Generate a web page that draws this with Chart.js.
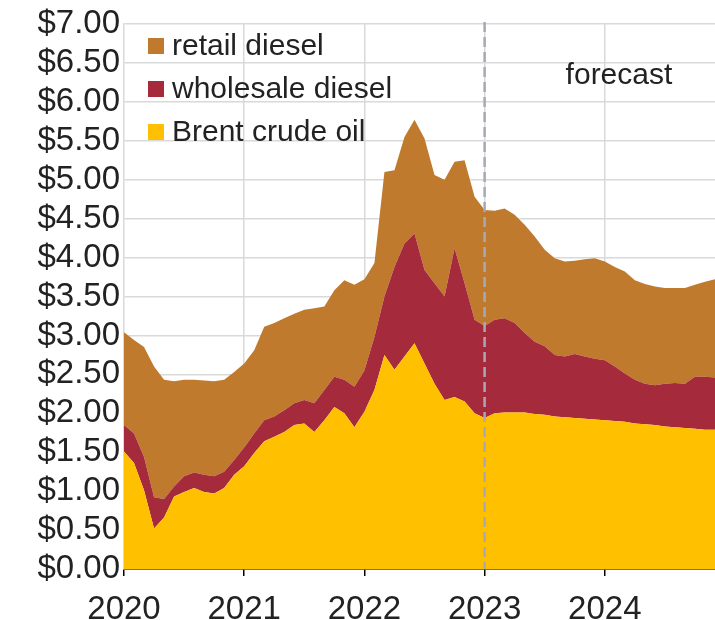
<!DOCTYPE html>
<html>
<head>
<meta charset="utf-8">
<script src="https://cdn.jsdelivr.net/npm/chart.js@4/dist/chart.umd.min.js"></script>
<style>
  html, body { margin: 0; padding: 0; background: #fff; }
  #wrap { width: 715px; height: 620px; position: relative; }
</style>
</head>
<body>
<div id="wrap"><canvas id="dieselChart"></canvas></div>
<script>
/* ============================================
   DATA  (dollars per gallon, monthly Jan 2020 - Dec 2024)
============================================ */
const years = [2020, 2021, 2022, 2023, 2024];
const forecastStart = '2023-01';

const brentCrude = [
    1.51, 1.36, 1.01, 0.52, 0.66, 0.93, 0.99, 1.04, 0.99, 0.97, 1.04, 1.21,
    1.32, 1.49, 1.64, 1.70, 1.76, 1.85, 1.87, 1.76, 1.91, 2.08, 2.00, 1.82,
    2.02, 2.30, 2.75, 2.56, 2.73, 2.90, 2.64, 2.38, 2.17, 2.21, 2.15, 2.00,
    1.94, 2.00, 2.01, 2.01, 2.01, 1.99, 1.98, 1.96, 1.95, 1.94, 1.93, 1.92,
    1.91, 1.90, 1.89, 1.87, 1.86, 1.85, 1.83, 1.82, 1.81, 1.80, 1.79, 1.79
];
const wholesaleDiesel = [
    1.85, 1.74, 1.44, 0.92, 0.90, 1.06, 1.19, 1.24, 1.21, 1.19, 1.25, 1.40,
    1.56, 1.74, 1.91, 1.96, 2.04, 2.13, 2.17, 2.13, 2.30, 2.47, 2.43, 2.34,
    2.55, 2.98, 3.50, 3.88, 4.18, 4.31, 3.84, 3.67, 3.50, 4.12, 3.67, 3.20,
    3.12, 3.20, 3.22, 3.16, 3.03, 2.92, 2.86, 2.75, 2.73, 2.76, 2.73, 2.70,
    2.68, 2.60, 2.51, 2.43, 2.38, 2.36, 2.38, 2.39, 2.38, 2.47, 2.47, 2.46
];
const retailDiesel = [
    3.04, 2.94, 2.85, 2.60, 2.43, 2.41, 2.43, 2.43, 2.42, 2.41, 2.43, 2.53,
    2.64, 2.81, 3.11, 3.16, 3.22, 3.28, 3.33, 3.35, 3.37, 3.58, 3.71, 3.65,
    3.72, 3.93, 5.10, 5.12, 5.55, 5.77, 5.53, 5.06, 5.00, 5.23, 5.25, 4.78,
    4.61, 4.60, 4.63, 4.55, 4.42, 4.27, 4.10, 3.99, 3.95, 3.96, 3.98, 3.99,
    3.95, 3.88, 3.82, 3.71, 3.66, 3.63, 3.61, 3.61, 3.61, 3.65, 3.69, 3.72
];

// month labels like "2020-01"
const months = [];
years.forEach(y => {
    for (let m = 1; m <= 12; m++) months.push(y + '-' + String(m).padStart(2, '0'));
});

const COLORS = {
    retail: '#C07A2D',
    wholesale: '#A52A3C',
    brent: '#FFC000',
    grid: '#d9d9d9',
    text: '#222222'
};
const FONT = "'Liberation Sans', Arial, sans-serif";

/* ============================================
   OVERLAY: forecast divider, label, legend
============================================ */
const overlayPlugin = {
    id: 'overlay',
    afterDatasetsDraw(chart) {
        const { ctx, chartArea, scales: { x } } = chart;
        const xf = x.getPixelForValue(months.indexOf(forecastStart));

        ctx.save();
        // dashed forecast line
        ctx.strokeStyle = '#a8a8b4';
        ctx.lineWidth = 2.5;
        ctx.setLineDash([10, 5]);
        ctx.beginPath();
        ctx.moveTo(xf, chartArea.top - 2);
        ctx.lineTo(xf, chartArea.bottom);
        ctx.stroke();
        ctx.setLineDash([]);

        // forecast label
        ctx.fillStyle = COLORS.text;
        ctx.font = '30px ' + FONT;
        ctx.textAlign = 'left';
        ctx.textBaseline = 'middle';
        ctx.fillText('forecast', xf + 81, 76);

        // legend (top to bottom = stack top to bottom)
        const items = chart.data.datasets.slice().reverse();
        items.forEach((ds, i) => {
            const cy = 46 + i * 43;
            ctx.fillStyle = ds.backgroundColor;
            ctx.fillRect(148, cy - 8, 16, 16);
            ctx.fillStyle = COLORS.text;
            ctx.fillText(ds.label, 172, cy + 1);
        });
        ctx.restore();
    }
};

/* ============================================
   CHART
============================================ */
function initChart() {
    const canvas = document.getElementById('dieselChart');
    const isJan = i => months[i] && months[i].endsWith('-01');

    new Chart(canvas.getContext('2d'), {
        type: 'line',
        data: {
            labels: months,
            datasets: [
                {
                    label: 'Brent crude oil',
                    data: brentCrude,
                    backgroundColor: COLORS.brent,
                    borderWidth: 0,
                    pointRadius: 0,
                    fill: 'origin'
                },
                {
                    label: 'wholesale diesel',
                    data: wholesaleDiesel,
                    backgroundColor: COLORS.wholesale,
                    borderWidth: 0,
                    pointRadius: 0,
                    fill: '-1'
                },
                {
                    label: 'retail diesel',
                    data: retailDiesel,
                    backgroundColor: COLORS.retail,
                    borderWidth: 0,
                    pointRadius: 0,
                    fill: '-1'
                }
            ]
        },
        options: {
            responsive: true,
            maintainAspectRatio: false,
            animation: false,
            layout: { padding: { top: 24, right: 0, left: 0, bottom: 0 } },
            plugins: {
                legend: { display: false },
                tooltip: { enabled: false }
            },
            scales: {
                x: {
                    type: 'category',
                    offset: false,
                    border: { color: '#000', width: 1.5 },
                    grid: {
                        color: ctx => isJan(ctx.index) && ctx.index > 0 ? COLORS.grid : 'rgba(0,0,0,0)',
                        tickColor: ctx => isJan(ctx.index) ? '#000' : 'rgba(0,0,0,0)',
                        tickLength: 7,
                        tickWidth: 1.5,
                        lineWidth: 1.5
                    },
                    ticks: {
                        autoSkip: false,
                        maxRotation: 0,
                        padding: 14,
                        color: COLORS.text,
                        font: { family: FONT, size: 33 },
                        callback: (v, i) => isJan(i) ? months[i].slice(0, 4) : ''
                    },
                    afterFit: s => {
                        s.height = 51;
                        s.paddingLeft = 0;
                        s.paddingRight = 0;
                    }
                },
                y: {
                    min: 0,
                    max: 7,
                    border: { color: COLORS.grid, width: 1.5 },
                    grid: { color: COLORS.grid, lineWidth: 1.5, drawTicks: false },
                    ticks: {
                        stepSize: 0.5,
                        autoSkip: false,
                        padding: 4,
                        color: COLORS.text,
                        font: { family: FONT, size: 33 },
                        callback: v => '$' + Number(v).toFixed(2)
                    },
                    afterFit: s => {
                        s.width = 124;
                        s.paddingTop = 0;
                        s.paddingBottom = 0;
                    }
                }
            }
        },
        plugins: [overlayPlugin]
    });
}

initChart();
</script>
</body>
</html>
